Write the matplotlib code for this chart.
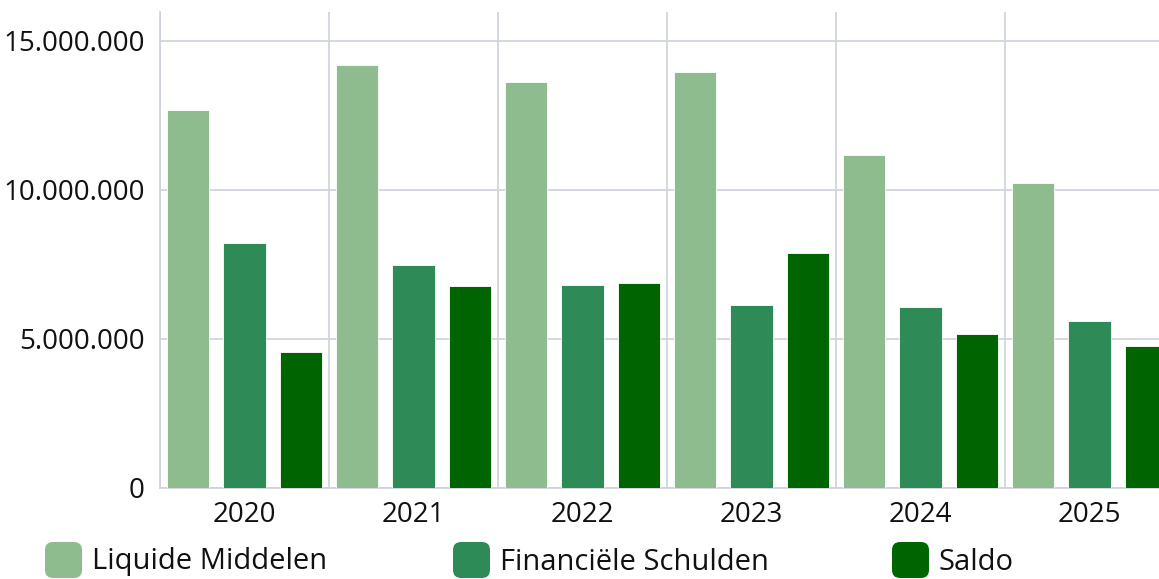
import matplotlib.pyplot as plt
import numpy as np
from matplotlib.patches import FancyBboxPatch
from matplotlib.ticker import FuncFormatter, FixedLocator

years = ["2020", "2021", "2022", "2023", "2024", "2025"]
liquide = [12680000, 14190000, 13620000, 13960000, 11170000, 10230000]
schulden = [8220000, 7480000, 6810000, 6140000, 6070000, 5600000]
saldo = [4560000, 6780000, 6880000, 7890000, 5170000, 4770000]
series_names = ["Liquide Middelen", "Financiële Schulden", "Saldo"]
colors = ["#8fbc8f", "#2e8b57", "#006400"]

plt.rcParams['font.family'] = ['Open Sans', 'DejaVu Sans']
grid_col = "#ccd1dc"

fig = plt.figure(figsize=(11.59, 5.79), dpi=100)
ax = fig.add_axes([160 / 1159, 91 / 579, 1014 / 1159, 476 / 579])

x = np.arange(len(years))
w = 0.25
for off, vals, col in zip([-1 / 3, 0, 1 / 3], [liquide, schulden, saldo], colors):
    ax.bar(x + off, vals, width=w, color=col, edgecolor="white", linewidth=0.6, zorder=3)

ax.set_xlim(-0.5, len(years) - 0.5)
ax.set_ylim(0, 15970000)
ax.set_xticks(x)
ax.set_xticklabels(years)
ax.xaxis.set_minor_locator(FixedLocator(np.arange(len(years) + 1) - 0.5))
ax.set_yticks([0, 5000000, 10000000, 15000000])
ax.yaxis.set_major_formatter(FuncFormatter(lambda v, p: f"{int(v):,}".replace(",", ".")))
ax.grid(axis="y", which="major", color=grid_col, linewidth=1.2, zorder=0)
ax.grid(axis="x", which="minor", color=grid_col, linewidth=1.2, zorder=0)
ax.tick_params(axis="both", which="both", length=0, labelsize=20, colors="#111111")
ax.tick_params(axis="x", pad=9)
ax.tick_params(axis="y", pad=11)
for s in ["top", "right"]:
    ax.spines[s].set_visible(False)
for s in ["left", "bottom"]:
    ax.spines[s].set_color(grid_col)
    ax.spines[s].set_linewidth(1.2)

# legend drawn by hand along the bottom
leg_x = [45, 453, 892]
for lx, name, col in zip(leg_x, series_names, colors):
    fig.patches.append(FancyBboxPatch((lx / 1159, 1 / 579), 37 / 1159, 36 / 579,
                                      boxstyle="round,pad=0,rounding_size=0.007",
                                      transform=fig.transFigure, facecolor=col,
                                      edgecolor="none", mutation_aspect=2))
    fig.text((lx + 47) / 1159, 17 / 579, name, fontsize=21, va="center", ha="left",
             color="#111111")

fig.savefig("out.png", dpi=100)
